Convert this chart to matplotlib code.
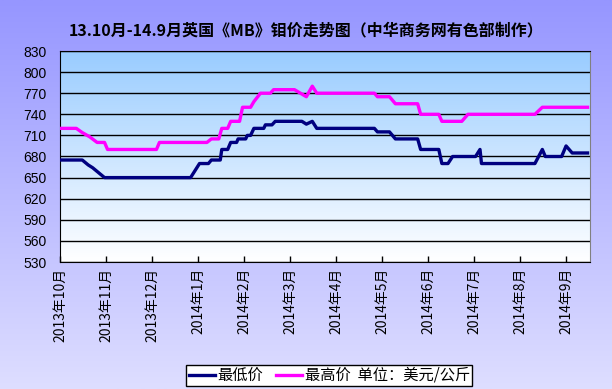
import numpy as np
import pandas as pd
import matplotlib
matplotlib.use("Agg")
import matplotlib.pyplot as plt

plt.rcParams['font.family'] = ['Noto Sans CJK SC', 'DejaVu Sans']

# 数据 (最低价 / 最高价, 美元/公斤)
low_dates = ["2013-10-01", "2013-10-16", "2013-10-20", "2013-10-23", "2013-10-31",
             "2013-12-27", "2014-01-02", "2014-01-08", "2014-01-10", "2014-01-16",
             "2014-01-17", "2014-01-21", "2014-01-23", "2014-01-27", "2014-01-28",
             "2014-02-02", "2014-02-03", "2014-02-05", "2014-02-07", "2014-02-13",
             "2014-02-14", "2014-02-18", "2014-02-20", "2014-03-09", "2014-03-12",
             "2014-03-16", "2014-03-19", "2014-04-26", "2014-04-28", "2014-05-06",
             "2014-05-10", "2014-05-25", "2014-05-27", "2014-06-08", "2014-06-10",
             "2014-06-14", "2014-06-17", "2014-07-02", "2014-07-05", "2014-07-06",
             "2014-08-11", "2014-08-16", "2014-08-18", "2014-08-29", "2014-09-01",
             "2014-09-05", "2014-09-15"]
low_prices = [675, 675, 668, 664, 650,
              650, 670, 670, 675, 675,
              690, 690, 700, 700, 705,
              705, 710, 710, 720, 720,
              725, 725, 730, 730, 726,
              730, 720, 720, 715, 715,
              705, 705, 690, 690, 670,
              670, 680, 680, 690, 670,
              670, 690, 680, 680, 695,
              685, 685]

high_dates = ["2013-10-01", "2013-10-12", "2013-10-16", "2013-10-21", "2013-10-26",
              "2013-10-31", "2013-11-02", "2013-12-04", "2013-12-06", "2014-01-07",
              "2014-01-10", "2014-01-15", "2014-01-17", "2014-01-21", "2014-01-23",
              "2014-01-29", "2014-01-31", "2014-02-05", "2014-02-07", "2014-02-11",
              "2014-02-17", "2014-02-19", "2014-03-04", "2014-03-12", "2014-03-16",
              "2014-03-19", "2014-04-26", "2014-04-28", "2014-05-06", "2014-05-10",
              "2014-05-25", "2014-05-27", "2014-06-08", "2014-06-10", "2014-06-23",
              "2014-06-27", "2014-08-11", "2014-08-16", "2014-09-15"]
high_prices = [720, 720, 714, 708, 700,
               700, 690, 690, 700, 700,
               705, 705, 720, 720, 730,
               730, 750, 750, 758, 770,
               770, 775, 775, 765, 780,
               770, 770, 765, 765, 755,
               755, 740, 740, 730, 730,
               740, 740, 750, 750]

month_labels = ["2013年10月", "2013年11月", "2013年12月", "2014年1月", "2014年2月",
                "2014年3月", "2014年4月", "2014年5月", "2014年6月", "2014年7月",
                "2014年8月", "2014年9月"]


def month_pos(dates):
    d = pd.to_datetime(pd.Series(dates))
    idx = (d.dt.year - 2013) * 12 + d.dt.month - 10
    return (idx + (d.dt.day - 1) / d.dt.days_in_month).values


fig = plt.figure(figsize=(6.12, 3.89), dpi=100)

# 背景渐变
bg = fig.add_axes([0, 0, 1, 1])
bg.axis("off")
t = np.linspace(0, 1, 256)[:, None, None]
top = np.array([150, 150, 255]) / 255
bottom = np.array([222, 222, 255]) / 255
bg.imshow(top + (bottom - top) * t, aspect="auto", extent=[0, 1, 0, 1])

ax = fig.add_axes([60 / 612, 1 - 262 / 389, 530 / 612, 211 / 389])
ptop = np.array([153, 204, 255]) / 255
pbot = np.array([255, 255, 255]) / 255
xmax = 11.52
ax.imshow(ptop + (pbot - ptop) * t, aspect="auto", extent=[0, xmax, 530, 830], zorder=0)

ax.plot(month_pos(low_dates), low_prices, color="#000080", lw=2.4, label="最低价", zorder=3)
ax.plot(month_pos(high_dates), high_prices, color="#FF00FF", lw=2.4,
        label="最高价  单位：美元/公斤", zorder=3)

ax.set_xlim(0, xmax)
ax.set_ylim(530, 830)
ax.set_yticks(range(530, 831, 30))
ax.grid(axis="y", color="black", lw=1)
ax.set_xticks(range(12))
ax.set_xticklabels(month_labels, rotation=90, fontsize=10)
ax.tick_params(axis="x", direction="in", length=4, width=1, color="black", pad=4)
ax.tick_params(axis="y", length=0, pad=9.5)
for lab in ax.get_yticklabels():
    lab.set_family("Liberation Sans")
    lab.set_fontsize(10)
for s in ["left", "bottom", "top"]:
    ax.spines[s].set_color("black")
ax.spines["right"].set_color("#808080")

fig.text(0.5, 1 - 30 / 389, "13.10月-14.9月英国《MB》钼价走势图（中华商务网有色部制作）",
         ha="center", va="center", fontsize=11.5, fontweight="bold")

leg = fig.legend(loc="center", bbox_to_anchor=(0.538, 0.035), ncol=2, fontsize=11,
                 frameon=True, fancybox=False, edgecolor="black", framealpha=1,
                 handlelength=1.7, handletextpad=0.2, columnspacing=0.8,
                 borderpad=0.15)
leg.get_frame().set_linewidth(1)

fig.savefig("out.png", dpi=100)
